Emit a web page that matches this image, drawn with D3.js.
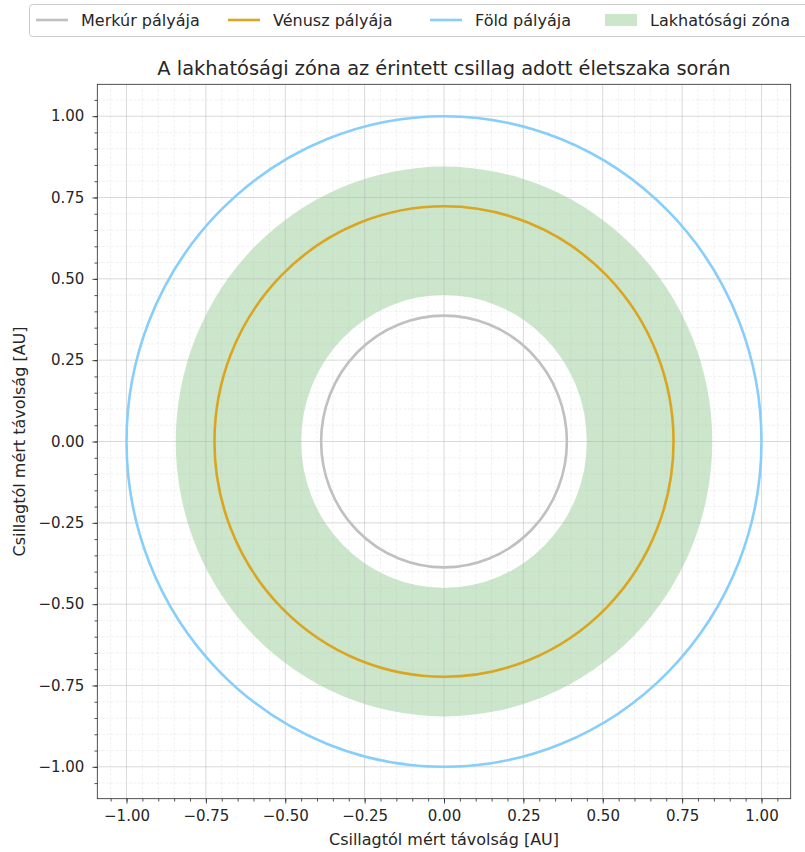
<!DOCTYPE html>
<html>
<head>
<meta charset="utf-8">
<script src="https://cdn.jsdelivr.net/npm/d3@7"></script>
<style>
  body { margin: 0; background: #fff; }
  text { font-family: "DejaVu Sans", sans-serif; fill: #262626; }
</style>
</head>
<body>
<svg id="chart" width="805" height="852"></svg>
<script>
// orbits (AU)
const orbitNames = ["Merkúr pályája", "Vénusz pályája", "Föld pályája"];
const orbitRadii = [0.387, 0.723, 1.0];
// habitable zone bounds (AU)
const zoneName = "Lakhatósági zóna";
const zoneInner = 0.45;
const zoneOuter = 0.845;
const tickValues = [-1.0, -0.75, -0.5, -0.25, 0, 0.25, 0.5, 0.75, 1.0];
const minorTicks = d3.range(-21, 22).map(i => i * 0.05);

const ORBIT_COLORS = ["#c0c0c0", "#daa520", "#87cefa"];
const ZONE_COLOR = "rgba(0,128,0,0.2)";

const margin = { left: 97.3, top: 84.3, right: 805 - 790.7, bottom: 852 - 798.7 };
const width = 805 - margin.left - margin.right;
const height = 852 - margin.top - margin.bottom;

const svg = d3.select("#chart");
const g = svg.append("g").attr("transform", `translate(${margin.left},${margin.top})`);

g.append("defs").append("clipPath").attr("id", "clip")
    .append("rect").attr("width", width).attr("height", height);

const x = d3.scaleLinear().domain([-1.092, 1.092]).range([0, width]);
const y = d3.scaleLinear().domain([-1.098, 1.098]).range([height, 0]);

const plot = g.append("g").attr("clip-path", "url(#clip)");

// habitable zone ring
const cx = x(0), cy = y(0);
const sx = r => x(r) - x(0);
const sy = r => y(0) - y(r);
const ring = (rx1, ry1, rx2, ry2) =>
    `M${cx - rx2},${cy} a${rx2},${ry2} 0 1,0 ${2 * rx2},0 a${rx2},${ry2} 0 1,0 ${-2 * rx2},0 Z ` +
    `M${cx - rx1},${cy} a${rx1},${ry1} 0 1,1 ${2 * rx1},0 a${rx1},${ry1} 0 1,1 ${-2 * rx1},0 Z`;

plot.append("path")
    .attr("d", ring(sx(zoneInner), sy(zoneInner), sx(zoneOuter), sy(zoneOuter)))
    .attr("fill", ZONE_COLOR)
    .attr("fill-rule", "evenodd");

// grid
const isMajor = t => Math.abs(Math.round(t * 4) - t * 4) < 1e-6;
const minorOnly = minorTicks.filter(t => !isMajor(t));
const grid = plot.append("g");
grid.selectAll(".minor-x").data(minorOnly).enter().append("line")
    .attr("x1", d => x(d)).attr("x2", d => x(d)).attr("y1", 0).attr("y2", height)
    .attr("stroke", "rgba(176,176,176,0.22)").attr("stroke-width", 0.8).attr("stroke-dasharray", "3,1.5");
grid.selectAll(".minor-y").data(minorOnly).enter().append("line")
    .attr("y1", d => y(d)).attr("y2", d => y(d)).attr("x1", 0).attr("x2", width)
    .attr("stroke", "rgba(176,176,176,0.22)").attr("stroke-width", 0.8).attr("stroke-dasharray", "3,1.5");
grid.selectAll(".major-x").data(tickValues).enter().append("line")
    .attr("x1", d => x(d)).attr("x2", d => x(d)).attr("y1", 0).attr("y2", height)
    .attr("stroke", "rgba(176,176,176,0.6)").attr("stroke-width", 0.8);
grid.selectAll(".major-y").data(tickValues).enter().append("line")
    .attr("y1", d => y(d)).attr("y2", d => y(d)).attr("x1", 0).attr("x2", width)
    .attr("stroke", "rgba(176,176,176,0.6)").attr("stroke-width", 0.8);

// orbits
plot.selectAll(".orbit").data(orbitRadii).enter().append("ellipse")
    .attr("cx", cx).attr("cy", cy)
    .attr("rx", d => sx(d)).attr("ry", d => sy(d))
    .attr("fill", "none")
    .attr("stroke", (d, i) => ORBIT_COLORS[i])
    .attr("stroke-width", 2.6);

// axes
const fmt = d => d3.format(".2f")(d).replace("-", "\u2212");
const minorIn = minorTicks.filter(t => t > -1.09 && t < 1.09);
const xAxis = g.append("g").attr("transform", `translate(0,${height})`)
    .call(d3.axisBottom(x).tickValues(tickValues).tickFormat(fmt).tickSize(4.9).tickPadding(7));
const yAxis = g.append("g")
    .call(d3.axisLeft(y).tickValues(tickValues).tickFormat(fmt).tickSize(4.9).tickPadding(8));
g.append("g").attr("transform", `translate(0,${height})`)
    .call(d3.axisBottom(x).tickValues(minorIn).tickFormat("").tickSize(2.8))
    .call(a => a.select(".domain").remove());
g.append("g")
    .call(d3.axisLeft(y).tickValues(minorIn).tickFormat("").tickSize(2.8))
    .call(a => a.select(".domain").remove());

[xAxis, yAxis].forEach(a => {
    a.selectAll("text").style("font-size", "15px").attr("fill", "#262626");
    a.select(".domain").remove();
});
g.selectAll(".tick line").attr("stroke", "#262626").attr("stroke-width", 0.8);

g.append("rect").attr("width", width).attr("height", height)
    .attr("fill", "none").attr("stroke", "#262626").attr("stroke-width", 0.8);

// labels
svg.append("text").attr("x", margin.left + width / 2).attr("y", 75)
    .attr("text-anchor", "middle").style("font-size", "19.4px")
    .text("A lakhatósági zóna az érintett csillag adott életszaka során");
svg.append("text").attr("x", margin.left + width / 2).attr("y", 845)
    .attr("text-anchor", "middle").style("font-size", "16px")
    .text("Csillagtól mért távolság [AU]");
svg.append("text").attr("transform", `translate(25,${margin.top + height / 2}) rotate(-90)`)
    .attr("text-anchor", "middle").style("font-size", "16px")
    .text("Csillagtól mért távolság [AU]");

// legend
const legend = svg.append("g");
legend.append("rect").attr("x", 29.5).attr("y", 4.5).attr("width", 840).attr("height", 32)
    .attr("rx", 3).attr("fill", "rgba(255,255,255,0.8)").attr("stroke", "#cccccc");
const itemX = [36, 228, 430, 605];
orbitNames.forEach((name, i) => {
    legend.append("line").attr("x1", itemX[i]).attr("x2", itemX[i] + 32)
        .attr("y1", 20).attr("y2", 20)
        .attr("stroke", ORBIT_COLORS[i]).attr("stroke-width", 2.6);
    legend.append("text").attr("x", itemX[i] + 45).attr("y", 26)
        .style("font-size", "16px").text(name);
});
legend.append("rect").attr("x", itemX[3]).attr("y", 14).attr("width", 32).attr("height", 12)
    .attr("fill", ZONE_COLOR);
legend.append("text").attr("x", itemX[3] + 45).attr("y", 26)
    .style("font-size", "16px").text(zoneName);
</script>
</body>
</html>
